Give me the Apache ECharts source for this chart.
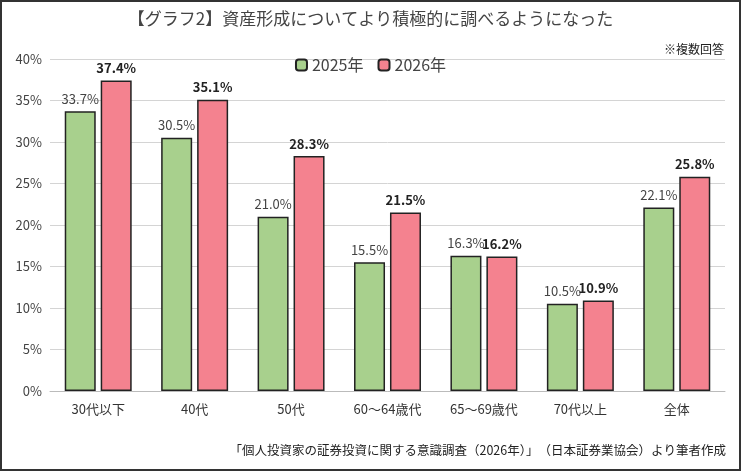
<!DOCTYPE html>
<html><head><meta charset="utf-8">
<script src="https://cdn.jsdelivr.net/npm/echarts@6/dist/echarts.min.js"></script>
<style>html,body{margin:0;padding:0;background:#fff}#c{width:741px;height:471px;box-sizing:border-box;border:2px solid #333}</style>
</head><body><div id="c"></div>
<script>
var categories = ['30代以下', '40代', '50代', '60～64歳代', '65～69歳代', '70代以上', '全体'];
var v2025 = [33.7, 30.5, 21.0, 15.5, 16.3, 10.5, 22.1];
var v2026 = [37.4, 35.1, 28.3, 21.5, 16.2, 10.9, 25.8];
var yTicks = [0, 5, 10, 15, 20, 25, 30, 35, 40];

var font = '"Noto Sans CJK JP", sans-serif';
var myChart = echarts.init(document.getElementById('c'));
var option = {
  textStyle: {fontFamily: font},
  title: [
    {text: '【グラフ2】資産形成についてより積極的に調べるようになった', left: 'center', top: 3,
     textStyle: {fontSize: 17, fontWeight: 'normal', color: '#444', fontFamily: font}},
    {text: '※複数回答', right: 10, top: 36, textStyle: {fontSize: 12, fontWeight: 'normal', color: '#222', fontFamily: font}},
    {text: '「個人投資家の証券投資に関する意識調査（2026年）」　（日本証券業協会）より筆者作成', right: 8, bottom: 7,
     textStyle: {fontSize: 12.5, fontWeight: 'normal', color: '#222', fontFamily: font}}
  ],
  legend: {top: 50, left: 'center', itemWidth: 11, itemHeight: 11, itemGap: 14,
    textStyle: {fontSize: 16, color: '#444', fontFamily: font}},
  grid: {left: 48, right: 14, top: 57, bottom: 78},
  xAxis: {type: 'category', data: categories,
    axisLine: {lineStyle: {color: '#bbb'}}, axisTick: {show: false},
    axisLabel: {color: '#333', fontSize: 13, margin: 12}},
  yAxis: {type: 'value', min: 0, max: 40, interval: 5,
    axisLabel: {formatter: function (v) { return yTicks.indexOf(v) >= 0 ? v + '%' : ''; }, color: '#444', fontSize: 13},
    splitLine: {lineStyle: {color: '#d4d4d4'}}},
  series: [
    {name: '2025年', type: 'bar', data: v2025, barWidth: 31, barGap: '16%',
     itemStyle: {color: '#a8d08d', borderColor: '#222', borderWidth: 1.5},
     label: {show: true, position: 'top', color: '#444', fontSize: 13, distance: 6,
       formatter: function (p) { return p.value.toFixed(1) + '%'; }}},
    {name: '2026年', type: 'bar', data: v2026, barWidth: 31,
     itemStyle: {color: '#f4828f', borderColor: '#222', borderWidth: 1.5},
     label: {show: true, position: 'top', color: '#222', fontSize: 13, fontWeight: 'bold', distance: 6,
       formatter: function (p) { return p.value.toFixed(1) + '%'; }}}
  ]
};
myChart.setOption(option);
</script></body></html>
